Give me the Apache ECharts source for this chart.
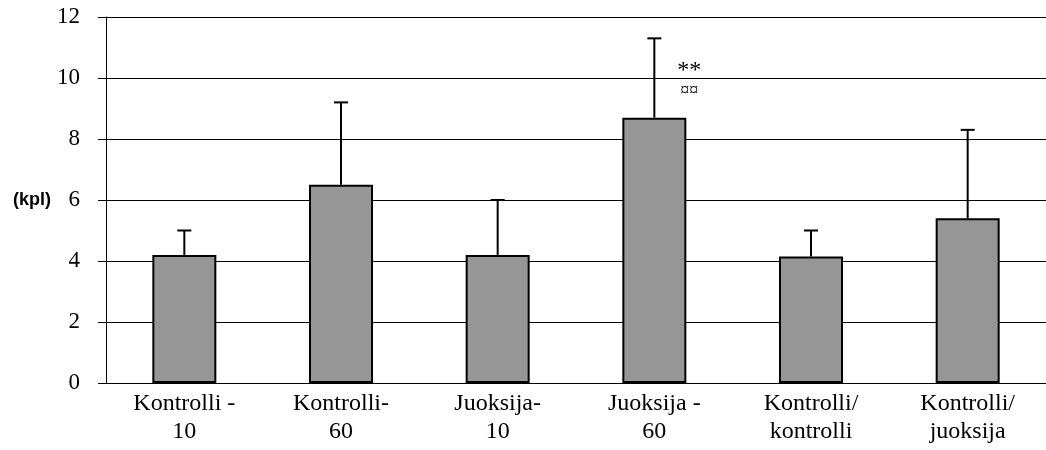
<!DOCTYPE html>
<html>
<head>
<meta charset="utf-8">
<script src="https://cdn.jsdelivr.net/npm/echarts@6/dist/echarts.min.js"></script>
<style>
  html, body { margin: 0; padding: 0; background: #ffffff; }
  #chart { width: 1046px; height: 450px; }
</style>
</head>
<body>
<div id="chart"></div>
<script>
// Group labels (two-line) along the category axis
const categories = ['Kontrolli -\n10', 'Kontrolli-\n60', 'Juoksija-\n10', 'Juoksija -\n60', 'Kontrolli/\nkontrolli', 'Kontrolli/\njuoksija'];
// Group means (kpl)
const means = [4.2, 6.5, 4.2, 8.7, 4.15, 5.4];
// Mean + SD, upper end of each error bar
const upper = [5.0, 9.2, 6.0, 11.3, 5.0, 8.3];
// Significance markers above the error bars
const sigStars = ['', '', '', '**', '', ''];
const sigCurrency = ['', '', '', '\u00a4\u00a4', '', ''];
// Value axis ticks
const yTicks = [0, 2, 4, 6, 8, 10, 12];

const serif = '"Liberation Serif", "Times New Roman", serif';

const chart = echarts.init(document.getElementById('chart'), null, { renderer: 'canvas' });

const errorData = categories.map((c, i) => [i, means[i], upper[i], sigStars[i], sigCurrency[i]]);

chart.setOption({
  animation: false,
  backgroundColor: '#ffffff',
  grid: { left: 106, top: 17, width: 945, height: 366, containLabel: false },
  xAxis: {
    type: 'category',
    data: categories,
    boundaryGap: true,
    axisLine: { show: true, lineStyle: { color: '#000', width: 1 } },
    axisTick: { show: false },
    axisLabel: {
      color: '#000',
      fontFamily: serif,
      fontSize: 24,
      lineHeight: 28,
      margin: 7,
      interval: 0
    },
    splitLine: { show: false }
  },
  yAxis: {
    type: 'value',
    min: yTicks[0],
    max: yTicks[yTicks.length - 1],
    interval: 2,
    name: '(kpl)',
    nameLocation: 'middle',
    nameRotate: 0,
    nameGap: 49,
    nameTextStyle: {
      fontFamily: '"Liberation Sans", Arial, sans-serif',
      fontWeight: 'bold',
      fontSize: 18,
      color: '#000',
      align: 'right'
    },
    axisLine: { show: true, lineStyle: { color: '#000', width: 1 } },
    axisTick: { show: true, inside: false, length: 8, lineStyle: { color: '#000', width: 1 } },
    axisLabel: {
      color: '#000',
      fontFamily: serif,
      fontSize: 23,
      margin: 26
    },
    splitLine: { show: true, lineStyle: { color: '#000', width: 1 } }
  },
  series: [
    {
      type: 'bar',
      data: means,
      barWidth: 64,
      itemStyle: { color: '#969696', borderColor: '#000', borderWidth: 2 },
      z: 2
    },
    {
      type: 'custom',
      data: errorData,
      z: 3,
      renderItem: function (params, api) {
        const idx = api.value(0);
        const base = api.coord([idx, api.value(1)]);
        const top = api.coord([idx, api.value(2)]);
        const capHalf = 7;
        const children = [
          {
            type: 'line',
            shape: { x1: base[0], y1: base[1], x2: top[0], y2: top[1] },
            style: { stroke: '#000', lineWidth: 2 }
          },
          {
            type: 'line',
            shape: { x1: top[0] - capHalf, y1: top[1], x2: top[0] + capHalf, y2: top[1] },
            style: { stroke: '#000', lineWidth: 2 }
          }
        ];
        const stars = errorData[params.dataIndex][3];
        const cur = errorData[params.dataIndex][4];
        if (stars) {
          children.push({
            type: 'text',
            style: {
              text: stars, x: top[0] + 35, y: top[1] + 32,
              fill: '#000', font: '24px ' + serif,
              align: 'center', verticalAlign: 'middle'
            }
          });
        }
        if (cur) {
          children.push({
            type: 'text',
            style: {
              text: cur, x: top[0] + 35, y: top[1] + 53,
              fill: '#000', font: '18px ' + serif,
              align: 'center', verticalAlign: 'middle'
            }
          });
        }
        return { type: 'group', children: children };
      }
    }
  ]
});
</script>
</body>
</html>
